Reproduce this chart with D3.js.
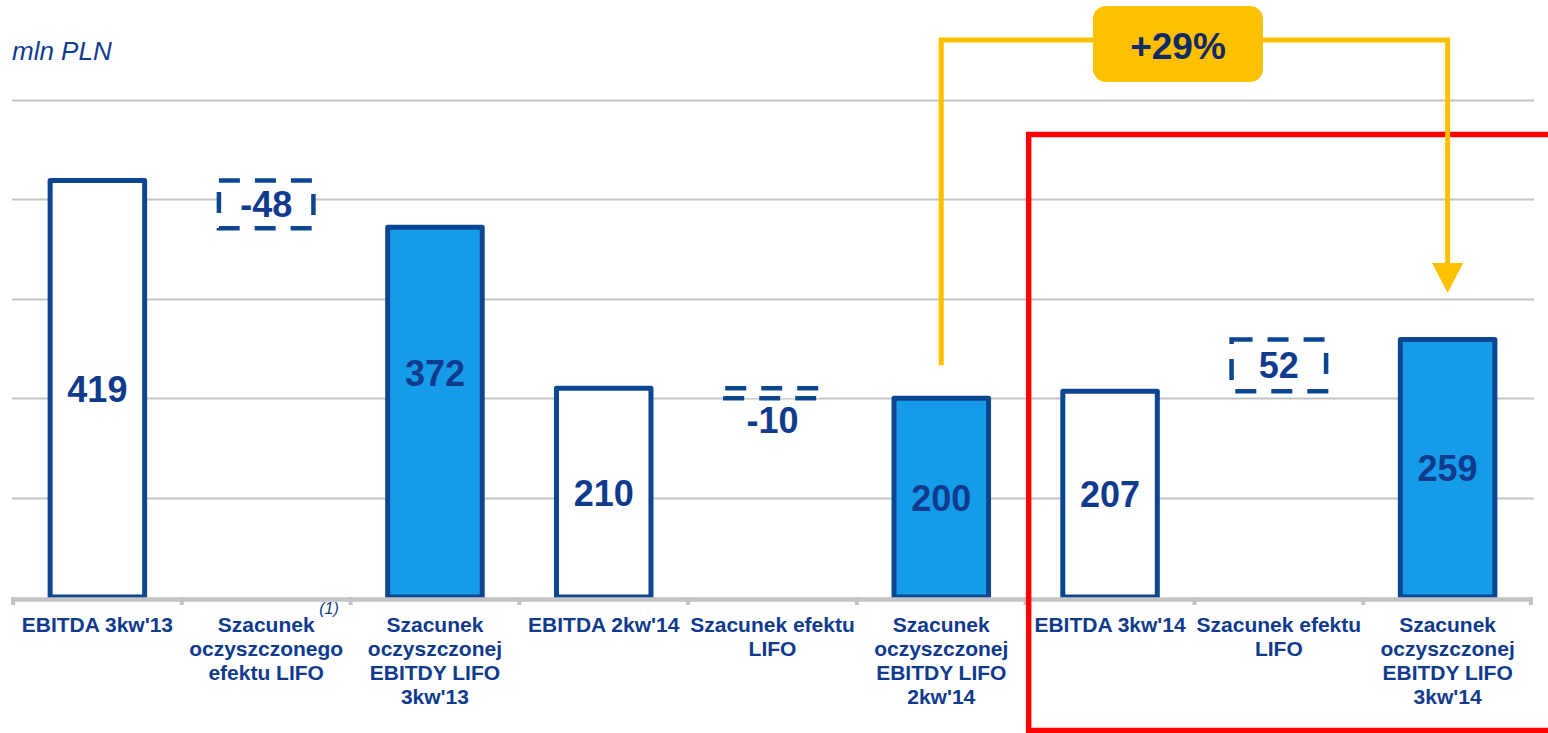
<!DOCTYPE html>
<html>
<head>
<meta charset="utf-8">
<script src="https://cdn.jsdelivr.net/npm/d3@7"></script>
<style>
body { margin: 0; background: #fff; }
text { font-family: "Liberation Sans", Arial, sans-serif; }
</style>
</head>
<body>
<svg id="chart"></svg>
<script>
var svg_width = 1548
var svg_height = 733

// categories (one array of lines per category)
var categories = [
  ["EBITDA 3kw'13"],
  ["Szacunek", "oczyszczonego", "efektu LIFO"],
  ["Szacunek", "oczyszczonej", "EBITDY LIFO", "3kw'13"],
  ["EBITDA 2kw'14"],
  ["Szacunek efektu", "LIFO"],
  ["Szacunek", "oczyszczonej", "EBITDY LIFO", "2kw'14"],
  ["EBITDA 3kw'14"],
  ["Szacunek efektu", "LIFO"],
  ["Szacunek", "oczyszczonej", "EBITDY LIFO", "3kw'14"]
];
var footnotes = ["", "(1)", "", "", "", "", "", "", ""];

// bar type: "total" (white), "clean" (blue), "delta" (dashed floating box)
var kinds = ["total", "delta", "clean", "total", "delta", "clean", "total", "delta", "clean"];
var values = [419, -48, 372, 210, -10, 200, 207, 52, 259];

var gridTicks = [100, 200, 300, 400, 500];
var unitLabel = "mln PLN";
var changeLabel = "+29%";

var darkBlue = "#0c4690";
var textBlue = "#0f3a8d";
var lightBlue = "#169be8";
var gridGray = "#c4c4c4";

var svg = d3.select("#chart")
  .attr("width", svg_width)
  .attr("height", svg_height);

var x = d3.scaleBand()
  .domain(d3.range(categories.length))
  .range([13, 1532])
  .paddingInner(0.44)
  .paddingOuter(0.22);

var y = d3.scaleLinear()
  .domain([0, 500])
  .range([597, 100]);

var step = x.step();
function bandLeft(i) { return x(i) - step * 0.22; }

// running start/end for waterfall
var bars = [];
var prev = 0;
values.forEach(function(v, i) {
  if (kinds[i] == "delta") {
    bars.push({ i: i, kind: "delta", v: v, from: prev, to: prev + v });
    prev = prev + v;
  } else {
    bars.push({ i: i, kind: kinds[i], v: v, from: 0, to: v });
    prev = v;
  }
});

// unit label
svg.append("text")
  .attr("x", 12)
  .attr("y", 60)
  .attr("font-size", "26px")
  .attr("font-style", "italic")
  .attr("fill", textBlue)
  .text(unitLabel);

// gridlines
svg.selectAll("line.grid")
  .data(gridTicks)
  .enter()
  .append("line")
  .attr("class", "grid")
  .attr("x1", 12)
  .attr("x2", 1534)
  .attr("y1", function(d) { return Math.round(y(d)) + 0.5; })
  .attr("y2", function(d) { return Math.round(y(d)) + 0.5; })
  .attr("stroke", gridGray)
  .attr("stroke-width", 2);

// baseline + tick marks between categories
svg.selectAll("line.tick")
  .data(d3.range(categories.length + 1))
  .enter()
  .append("line")
  .attr("class", "tick")
  .attr("x1", function(d) { return d == categories.length ? 1531 : bandLeft(d); })
  .attr("x2", function(d) { return d == categories.length ? 1531 : bandLeft(d); })
  .attr("y1", 597)
  .attr("y2", 605)
  .attr("stroke", gridGray)
  .attr("stroke-width", 4);

// solid bars
var solid = bars.filter(function(d) { return d.kind != "delta"; });
svg.selectAll("rect.bar")
  .data(solid)
  .enter()
  .append("rect")
  .attr("class", "bar")
  .attr("x", function(d) { return x(d.i); })
  .attr("width", x.bandwidth())
  .attr("y", function(d) { return y(d.to); })
  .attr("height", function(d) { return y(0) - y(d.to); })
  .attr("fill", function(d) { return d.kind == "clean" ? lightBlue : "#fff"; })
  .attr("stroke", darkBlue)
  .attr("stroke-width", 5)
  .attr("stroke-linejoin", "round");

// baseline over the bar bottoms
svg.append("line")
  .attr("x1", 12)
  .attr("x2", 1533)
  .attr("y1", 599.5)
  .attr("y2", 599.5)
  .attr("stroke", gridGray)
  .attr("stroke-width", 4.5);

svg.selectAll("text.val")
  .data(solid)
  .enter()
  .append("text")
  .attr("class", "val")
  .attr("x", function(d) { return x(d.i) + x.bandwidth() / 2; })
  .attr("y", function(d) {
    var mid = (y(d.to) + y(0)) / 2;
    return d.i == 2 ? mid - 39 : mid;
  })
  .attr("dy", "0.36em")
  .attr("text-anchor", "middle")
  .attr("font-size", "36px")
  .attr("font-weight", "bold")
  .attr("fill", textBlue)
  .text(function(d) { return d.v; });

// dashed delta boxes
var deltas = bars.filter(function(d) { return d.kind == "delta"; });
svg.selectAll("rect.delta")
  .data(deltas)
  .enter()
  .append("rect")
  .attr("class", "delta")
  .attr("x", function(d) { return x(d.i); })
  .attr("width", x.bandwidth())
  .attr("y", function(d) { return y(Math.max(d.from, d.to)); })
  .attr("height", function(d) { return Math.abs(y(d.from) - y(d.to)); })
  .attr("fill", "#fff")
  .attr("stroke", darkBlue)
  .attr("stroke-width", 4.5)
  .attr("stroke-dasharray", "21,15");

svg.selectAll("text.delta")
  .data(deltas)
  .enter()
  .append("text")
  .attr("class", "delta")
  .attr("x", function(d) { return x(d.i) + x.bandwidth() / 2; })
  .attr("y", function(d) {
    var h = Math.abs(y(d.from) - y(d.to));
    var mid = (y(d.from) + y(d.to)) / 2;
    return h < 30 ? y(Math.min(d.from, d.to)) + 22 : mid;
  })
  .attr("dy", "0.36em")
  .attr("text-anchor", "middle")
  .attr("font-size", "36px")
  .attr("font-weight", "bold")
  .attr("fill", textBlue)
  .text(function(d) { return d.v; });

// category labels
categories.forEach(function(lines, i) {
  var cx = x(i) + x.bandwidth() / 2;
  svg.selectAll(null)
    .data(lines)
    .enter()
    .append("text")
    .attr("x", cx)
    .attr("y", function(d, k) { return 632 + k * 24; })
    .attr("text-anchor", "middle")
    .attr("font-size", "21px")
    .attr("font-weight", "bold")
    .attr("fill", textBlue)
    .text(function(d) { return d; });
  if (footnotes[i]) {
    svg.append("text")
      .attr("x", cx + 53)
      .attr("y", 614)
      .attr("font-size", "16px")
      .attr("font-style", "italic")
      .attr("fill", textBlue)
      .text(footnotes[i]);
  }
});

// red frame round the latest quarter
var redLeft = bandLeft(6) + 3;
svg.append("path")
  .attr("d", "M1560," + 134.5 + "H" + redLeft + "V730.5H1560")
  .attr("fill", "none")
  .attr("stroke", "#ff0000")
  .attr("stroke-width", 5.5);

// yellow growth connector
var yellow = "#ffc000";
var xa = x(5) + x.bandwidth() / 2;
var xb = x(8) + x.bandwidth() / 2;
svg.append("path")
  .attr("d", "M" + xa + "," + (y(200) - 33) + "V40H" + xb + "V266")
  .attr("fill", "none")
  .attr("stroke", yellow)
  .attr("stroke-width", 5);

svg.append("path")
  .attr("d", "M" + (xb - 15.5) + ",263L" + (xb + 15.5) + ",263L" + xb + ",293Z")
  .attr("fill", yellow);

svg.append("rect")
  .attr("x", 1093)
  .attr("y", 6)
  .attr("width", 170)
  .attr("height", 76)
  .attr("rx", 13)
  .attr("fill", yellow);

svg.append("text")
  .attr("x", 1178)
  .attr("y", 46)
  .attr("dy", "0.36em")
  .attr("text-anchor", "middle")
  .attr("font-family", "'Open Sans', sans-serif")
  .attr("font-size", "37px")
  .attr("font-weight", "bold")
  .attr("fill", "#0f2a66")
  .text(changeLabel);
</script>
</body>
</html>
